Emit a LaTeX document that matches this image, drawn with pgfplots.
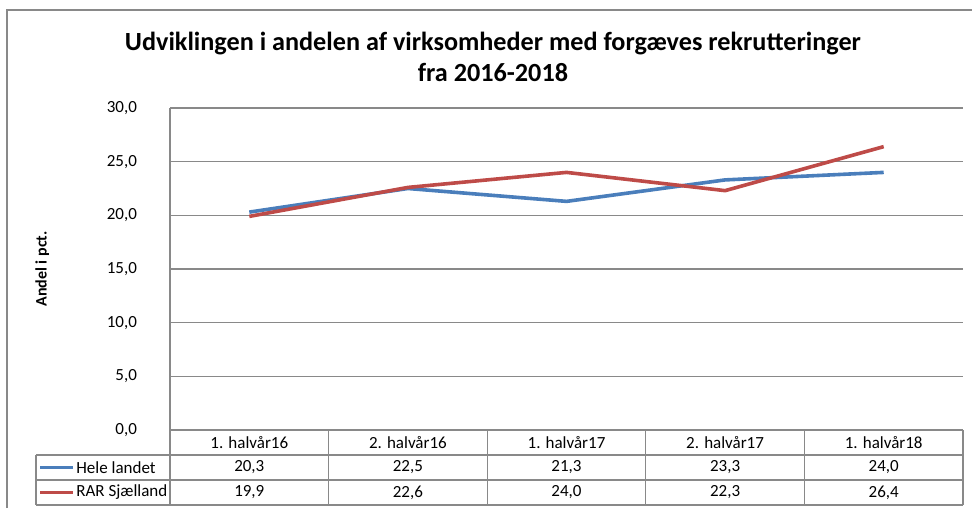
\documentclass[border=0pt]{standalone}
\usepackage{fontspec}
\setmainfont{Carlito}
\usepackage{pgfplots}
\pgfplotsset{compat=1.18}
\definecolor{xlblue}{HTML}{4A7EBB}
\definecolor{xlred}{HTML}{BE4B48}
\definecolor{xlgrid}{HTML}{898989}
\begin{document}
\begin{tikzpicture}[x=1pt,y=1pt]
\useasboundingbox (0,0) rectangle (486,254);
\draw[xlgrid, line width=0.6pt] (3.5,0) -- (3.5,249) -- (486,249);
\node[font=\fontsize{13.1}{15.5}\selectfont\bfseries, align=center] at (246.5,225.5) {Udviklingen i andelen af virksomheder med forgæves rekrutteringer\\fra 2016-2018};
\begin{axis}[at={(85pt,39pt)}, anchor=south west, scale only axis,
  width=396.5pt, height=161pt,
  xmin=-0.5, xmax=4.5, ymin=0, ymax=30, ytick={0,5,...,30},
  xtick=\empty, axis lines*=left,
  axis line style={xlgrid, line width=0.6pt},
  ymajorgrids, grid style={xlgrid, line width=0.6pt},
  major tick length=0pt,
  yticklabel style={font=\fontsize{8.5}{10}\selectfont, xshift=-13pt},
  /pgf/number format/fixed, /pgf/number format/fixed zerofill,
  /pgf/number format/precision=1, /pgf/number format/use comma,
  /pgf/number format/assume math mode=true,
  ylabel={Andel i pct.},
  ylabel style={at={(axis description cs:-0.161,0.5)}, anchor=center, font=\fontsize{8}{10}\selectfont\bfseries},
  clip=false]
\addplot[xlblue, line width=1.8pt] coordinates {(0,20.3)(1,22.5)(2,21.3)(3,23.3)(4,24.0)};
\addplot[xlred, line width=1.8pt] coordinates {(0,19.9)(1,22.6)(2,24.0)(3,22.3)(4,26.4)};
\end{axis}
% data table below the plot
\draw[xlgrid, line width=0.6pt] (18,26.5) -- (481.5,26.5);
\draw[xlgrid, line width=0.6pt] (18,14) -- (481.5,14);
\draw[xlgrid, line width=0.6pt] (18,1.5) -- (481.5,1.5);
\draw[xlgrid, line width=0.6pt] (18,26.5) -- (18,1.5);
\foreach \k in {0,...,5} {
  \draw[xlgrid, line width=0.6pt] ({85+\k*79.3},39) -- ({85+\k*79.3},1.5);
}
\foreach \lab [count=\i from 0] in {1. halvår16, 2. halvår16, 1. halvår17, 2. halvår17, 1. halvår18} {
  \node[font=\fontsize{8.5}{10}\selectfont] at ({124.65+\i*79.3},32.75) {\lab};
}
\foreach \v [count=\i from 0] in {{20,3},{22,5},{21,3},{23,3},{24,0}} {
  \node[font=\fontsize{8.5}{10}\selectfont] at ({124.65+\i*79.3},20.25) {\v};
}
\foreach \v [count=\i from 0] in {{19,9},{22,6},{24,0},{22,3},{26,4}} {
  \node[font=\fontsize{8.5}{10}\selectfont] at ({124.65+\i*79.3},7.75) {\v};
}
\draw[xlblue, line width=1.8pt] (20,20.25) -- (36.5,20.25);
\node[font=\fontsize{8.5}{10}\selectfont, anchor=west, inner sep=1pt] at (37,20.25) {Hele landet};
\draw[xlred, line width=1.8pt] (20,7.75) -- (36.5,7.75);
\node[font=\fontsize{8.5}{10}\selectfont, anchor=west, inner sep=1pt] at (37,7.75) {RAR Sjælland};
\end{tikzpicture}
\end{document}
